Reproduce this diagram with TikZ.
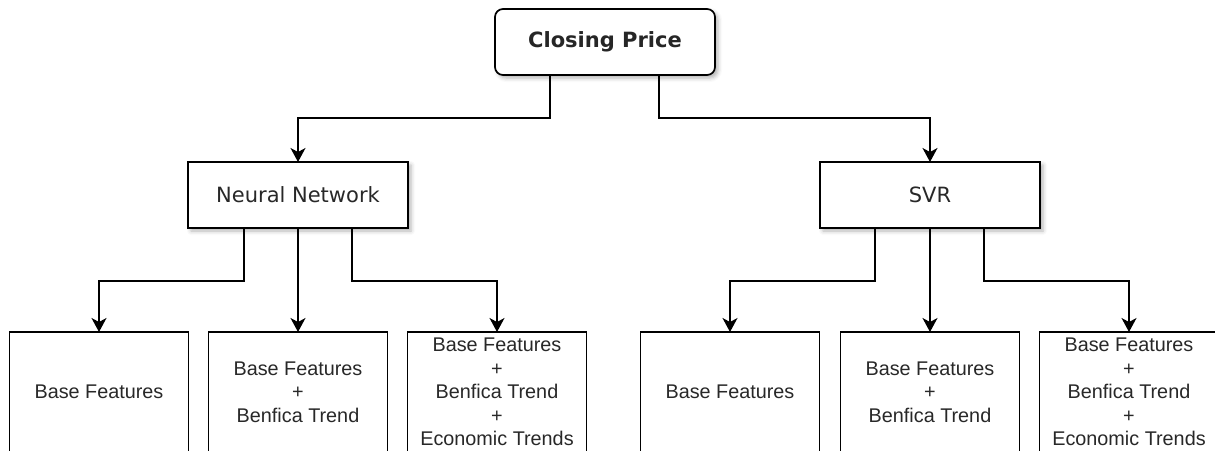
\documentclass[tikz,border=0pt]{standalone}
\usepackage{fontspec}
\setmainfont{DejaVu Sans}
\newfontfamily\arialfont{Liberation Sans}
\usetikzlibrary{arrows.meta,shadows.blur,calc}

\definecolor{inkgray}{RGB}{40,40,40}

\begin{document}
\begin{tikzpicture}[x=1pt,y=-1pt,
  every node/.style={inner sep=0pt, outer sep=0pt},
  softshadow/.style={blur shadow={shadow xshift=3pt, shadow yshift=-3pt,
      shadow blur radius=4pt, shadow opacity=30}},
  rootbox/.style={draw, line width=1.7pt, rounded corners=8pt, fill=white,
      minimum width=220pt, minimum height=66pt, softshadow,
      font=\fontsize{21}{25}\selectfont\bfseries, text=black!85},
  modelbox/.style={draw, line width=1.7pt, fill=white,
      minimum width=220pt, minimum height=66pt, softshadow,
      font=\fontsize{21}{25}\selectfont, text=inkgray},
  featbox/.style={draw, line width=1.7pt, fill=white,
      minimum width=179pt, minimum height=120pt, align=center,
      font=\arialfont\fontsize{19.8}{23.5}\selectfont, text=inkgray},
  conn/.style={line width=1.5pt, -{Stealth[length=14pt,width=15pt,inset=4pt]}}
]
\useasboundingbox (0,0) rectangle (1215,450);
\clip (0,0) rectangle (1215,450);

% top level
\node[rootbox] (cp) at (605,42) {Closing Price};

% models
\node[modelbox] (nn)  at (298,195) {Neural Network};
\node[modelbox] (svr) at (930,195) {SVR};

% feature sets under the neural network
\node[featbox] (nb1) at (99,392)  {Base Features};
\node[featbox] (nb2) at (298,392) {Base Features\\+\\Benfica Trend};
\node[featbox] (nb3) at (497,392) {Base Features\\+\\Benfica Trend\\+\\Economic Trends};

% feature sets under the SVR
\node[featbox] (sb1) at (730,392)  {Base Features};
\node[featbox] (sb2) at (930,392)  {Base Features\\+\\Benfica Trend};
\node[featbox] (sb3) at (1129,392) {Base Features\\+\\Benfica Trend\\+\\Economic Trends};

% closing price to models
\draw[conn] ($(cp.south)+(-55,0)$) -- ++(0,43) -| (nn.north);
\draw[conn] ($(cp.south)+(54,0)$)  -- ++(0,43) -| (svr.north);

% neural network to its feature sets
\draw[conn] ($(nn.south)+(-54,0)$) -- ++(0,53) -| (nb1.north);
\draw[conn] (nn.south) -- (nb2.north);
\draw[conn] ($(nn.south)+(54,0)$)  -- ++(0,53) -| (nb3.north);

% SVR to its feature sets
\draw[conn] ($(svr.south)+(-55,0)$) -- ++(0,53) -| (sb1.north);
\draw[conn] (svr.south) -- (sb2.north);
\draw[conn] ($(svr.south)+(54,0)$)  -- ++(0,53) -| (sb3.north);
\end{tikzpicture}
\end{document}
